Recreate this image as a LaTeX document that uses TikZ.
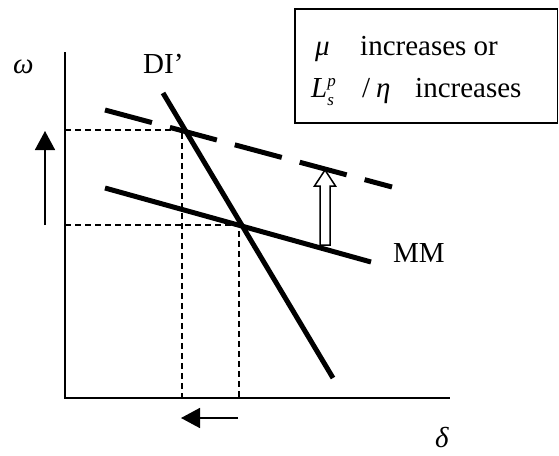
\documentclass[tikz,border=0pt]{standalone}
\usepackage{fontspec}
\setmainfont{Liberation Serif}
\usetikzlibrary{arrows.meta}
\begin{document}
\begin{tikzpicture}[x=1pt,y=-1pt,
  thickline/.style={line width=5pt},
  guideline/.style={line width=1.3pt,dash pattern=on 6pt off 4pt},
  axisline/.style={line width=1.6pt},
  thinarrow/.style={line width=1.6pt,-{Triangle[length=19pt,width=20pt]}},
  lbl/.style={inner sep=0pt,anchor=base west,font=\fontsize{29}{32}\selectfont}]
\useasboundingbox (0,0) rectangle (559,455);
% axes
\coordinate (otop) at (65,52);
\coordinate (orig) at (65,398);
\coordinate (xend) at (450,398);
\draw[axisline] (otop) -- (orig) -- (xend);
% curves
\coordinate (di1) at (163,93);
\coordinate (di2) at (333,378);
\coordinate (mm1) at (105,188);
\coordinate (mm2) at (371,262);
\coordinate (nm1) at (105,110);
\coordinate (nm2) at (392,187);
\draw[thickline] (di1) -- (di2);
\draw[thickline] (mm1) -- (mm2);
\draw[thickline,dash pattern=on 48.6pt off 18.6pt] (nm1) -- (nm2);
% guides
\coordinate (p1) at (182,130);
\coordinate (p2) at (239,225);
\coordinate (p1y) at (65,130);
\coordinate (p1x) at (182,398);
\coordinate (p2y) at (65,225);
\coordinate (p2x) at (239,398);
\draw[guideline] (p1y) -- (p1) -- (p1x);
\draw[guideline] (p2y) -- (p2) -- (p2x);
% arrows
\coordinate (ua1) at (45,225);
\coordinate (ua2) at (45,131);
\draw[thinarrow] (ua1) -- (ua2);
\coordinate (la1) at (238,418);
\coordinate (la2) at (181,418);
\draw[thinarrow] (la1) -- (la2);
% hollow arrow
\draw[line width=1.5pt,fill=white] (320,245) -- (320,186) -- (314.5,186) -- (325,170)
  -- (335.5,186) -- (330,186) -- (330,245) -- cycle;
% labels
\node[lbl] (omega) at (13,73) {\itshape ω};
\node[lbl] (di) at (143,73) {DI’};
\node[lbl] (mm) at (393,262) {MM};
\node[lbl] (delta) at (435,447) {\itshape δ};
% box
\draw[line width=1.5pt] (295,9) rectangle (557.5,123);
\node[lbl] (mu) at (315,55) {\itshape μ};
\node[lbl] (t1) at (360,55) {increases or};
\node[lbl] (L) at (311,97) {\itshape L\rlap{\raisebox{11pt}{\fontsize{17}{19}\selectfont p}}\raisebox{-8pt}{\fontsize{17}{19}\selectfont s}};
\node[lbl] (sl) at (362,97) {/};
\node[lbl] (eta) at (376,97) {\itshape η};
\node[lbl] (t2) at (415,97) {increases};
\end{tikzpicture}
\end{document}
